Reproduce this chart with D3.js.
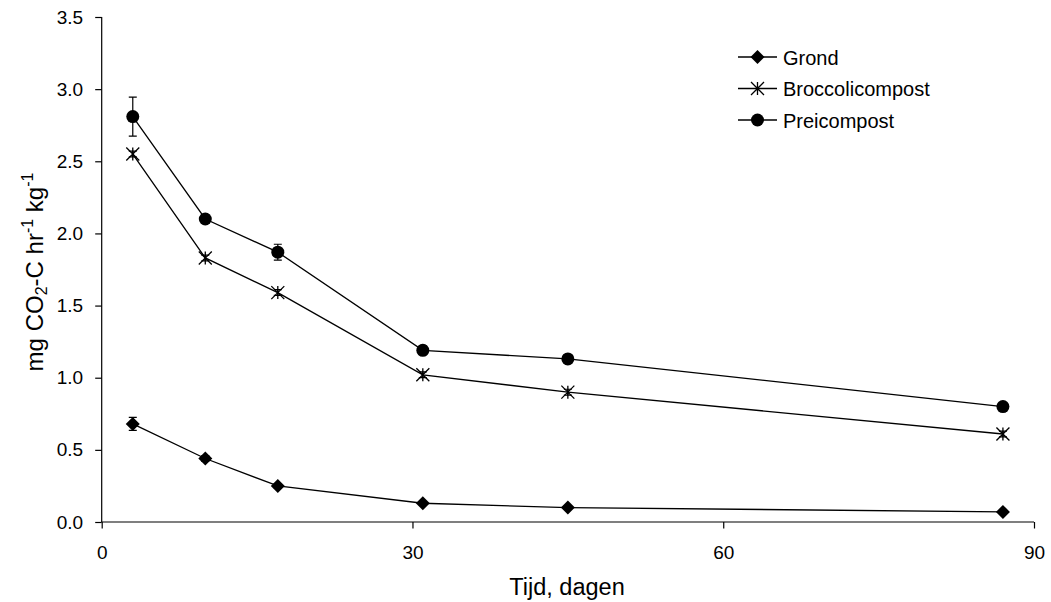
<!DOCTYPE html>
<html>
<head>
<meta charset="utf-8">
<script src="https://cdn.jsdelivr.net/npm/d3@7/dist/d3.min.js"></script>
<style>
  body { margin: 0; background: #fff; }
  text { font-family: "Liberation Sans", Arial, sans-serif; fill: #000; }
</style>
</head>
<body>
<div id="chart"></div>
<script>
// data
var days = [3, 10, 17, 31, 45, 87];
var grond = [0.68, 0.44, 0.25, 0.13, 0.10, 0.07];
var grondErr = [0.045, 0.02, 0.015, 0.01, 0.01, 0.01];
var broccoli = [2.55, 1.83, 1.59, 1.02, 0.90, 0.61];
var broccoliErr = [0.02, 0.02, 0.02, 0.02, 0.02, 0.02];
var prei = [2.81, 2.10, 1.87, 1.19, 1.13, 0.80];
var preiErr = [0.135, 0.03, 0.055, 0.03, 0.02, 0.02];
var seriesNames = ["Grond", "Broccolicompost", "Preicompost"];
var xTicks = [0, 30, 60, 90];
var yTicks = [0, 0.5, 1.0, 1.5, 2.0, 2.5, 3.0, 3.5];

var width = 1051, height = 602;
var svg = d3.select("#chart").append("svg")
  .attr("width", width)
  .attr("height", height)

var x = d3.scaleLinear().domain([0, 90]).range([101.7, 1034])
var y = d3.scaleLinear().domain([0, 3.5]).range([522, 17])

// axes
var yAxis = svg.append("g")
  .attr("transform", "translate(101.7,0)")
  .call(d3.axisLeft(y).tickValues(yTicks).tickFormat(d3.format(".1f")).tickSize(6.5).tickPadding(12))
var xAxis = svg.append("g")
  .attr("transform", "translate(0,522)")
  .call(d3.axisBottom(x).tickValues(xTicks).tickFormat(d3.format("d")).tickSize(6.5).tickPadding(17))

svg.selectAll(".domain").attr("stroke", "#000").attr("stroke-width", 1.2)
svg.selectAll(".tick line").attr("stroke", "#000").attr("stroke-width", 1.2)
svg.selectAll(".tick text").style("font-size", "19px").style("font-family", "Liberation Sans, Arial, sans-serif")
xAxis.select(".domain").attr("d", "M" + x(0) + ",0H" + x(90))
yAxis.select(".domain").attr("d", "M0," + y(0) + "V" + y(3.5))

// titles
svg.append("text")
  .attr("x", 567).attr("y", 595)
  .attr("text-anchor", "middle")
  .style("font-size", "23.5px")
  .text("Tijd, dagen")

var yt = svg.append("text")
  .attr("transform", "translate(43,272) rotate(-90)")
  .attr("text-anchor", "middle")
  .style("font-size", "24px")
yt.append("tspan").text("mg CO")
yt.append("tspan").attr("dy", 4).style("font-size", "16px").text("2")
yt.append("tspan").attr("dy", -4).text("-C hr")
yt.append("tspan").attr("dy", -10).style("font-size", "16px").text("-1")
yt.append("tspan").attr("dy", 10).text("  kg")
yt.append("tspan").attr("dy", -10).style("font-size", "16px").text("-1")

var series = [
  { name: seriesNames[0], values: grond, err: grondErr, marker: "diamond" },
  { name: seriesNames[1], values: broccoli, err: broccoliErr, marker: "star" },
  { name: seriesNames[2], values: prei, err: preiErr, marker: "circle" }
]

function drawMarker(g, type, cx, cy) {
  if (type === "diamond") {
    g.append("path")
      .attr("d", "M" + cx + "," + (cy - 7) + "L" + (cx + 7) + "," + cy + "L" + cx + "," + (cy + 7) + "L" + (cx - 7) + "," + cy + "Z")
      .attr("fill", "#000")
  } else if (type === "circle") {
    g.append("circle").attr("cx", cx).attr("cy", cy).attr("r", 6.5).attr("fill", "#000")
  } else {
    var a = 6.5
    g.append("path")
      .attr("d", "M" + (cx - a) + "," + (cy - a) + "L" + (cx + a) + "," + (cy + a) +
        "M" + (cx - a) + "," + (cy + a) + "L" + (cx + a) + "," + (cy - a) +
        "M" + cx + "," + (cy - a) + "L" + cx + "," + (cy + a))
      .attr("stroke", "#000").attr("stroke-width", 1.3).attr("fill", "none")
  }
}

var line = d3.line()
  .x(function (d, i) { return x(days[i]) })
  .y(function (d) { return y(d) })

series.forEach(function (s) {
  var g = svg.append("g")
  // error bars
  s.values.forEach(function (v, i) {
    var cx = x(days[i])
    var top = y(v + s.err[i]), bot = y(v - s.err[i])
    g.append("path")
      .attr("d", "M" + cx + "," + top + "V" + bot + "M" + (cx - 4) + "," + top + "H" + (cx + 4) + "M" + (cx - 4) + "," + bot + "H" + (cx + 4))
      .attr("stroke", "#000").attr("stroke-width", 1.2).attr("fill", "none")
  })
  g.append("path")
    .datum(s.values)
    .attr("d", line)
    .attr("fill", "none")
    .attr("stroke", "#000")
    .attr("stroke-width", 1.3)
  s.values.forEach(function (v, i) {
    drawMarker(g, s.marker, x(days[i]), y(v))
  })
})

// legend
var legend = svg.append("g")
series.forEach(function (s, i) {
  var ly = 57 + i * 31.5
  legend.append("line")
    .attr("x1", 738).attr("x2", 777)
    .attr("y1", ly).attr("y2", ly)
    .attr("stroke", "#000").attr("stroke-width", 1.3)
  drawMarker(legend, s.marker, 757.5, ly)
  legend.append("text")
    .attr("x", 783).attr("y", ly + 7.5)
    .style("font-size", "20px")
    .text(s.name)
})
</script>
</body>
</html>
